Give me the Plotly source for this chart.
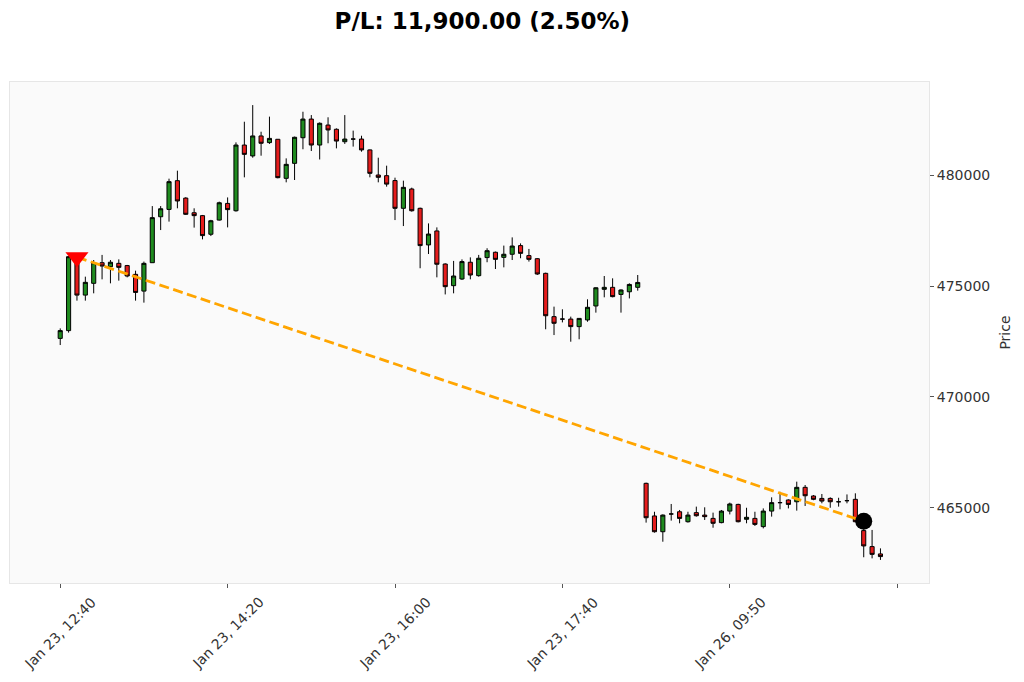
import plotly.graph_objects as go

# ---- data ----
opens = [472640, 472990, 476320, 474590, 475120, 476050, 475870, 476020, 475920, 475525,
         474770, 476050, 478120, 478450, 479745, 478960, 478300, 478170, 477330, 477970,
         478720, 478390, 481350, 480860, 481760, 481460, 481610, 479850, 480525, 481680,
         482520, 481350, 482250, 482060, 481500, 481620, 481620, 481130, 480000, 479970,
         479750, 478500, 479370, 478500, 476850, 477480, 475990, 475015, 475315, 476070,
         475465, 476280, 476520, 476290, 476430, 476820, 476370, 476230, 475570, 473620,
         473510, 473510, 473170, 473470, 474100, 474850, 474940, 474620, 474740, 474940,
         466110, 464640, 463930, 464730, 464830, 464380, 464790, 464680, 464530, 464340,
         464860, 465160, 464490, 464530, 464160, 464860, 465240, 465360, 465280, 465930,
         465540, 465430, 465430, 465280, 465330, 465390, 463980, 463260, 462930]
highs = [473090, 476350, 476400, 475420, 476170, 476400, 476170, 476200, 475950, 475690,
         476100, 478600, 478600, 479835, 480195, 479000, 478500, 478200, 477980, 478800,
         478990, 481470, 482400, 483150, 481950, 482630, 481620, 480750, 481730, 482850,
         482700, 482370, 482600, 482100, 482700, 482000, 481770, 481150, 480780, 480420,
         479880, 479745, 479430, 478530, 477820, 477640, 476020, 476130, 476200, 476290,
         476400, 476700, 476550, 476820, 477190, 476920, 476670, 476260, 475600, 474070,
         473950, 473620, 473550, 474400, 474940, 475450, 475345, 474850, 475120, 475495,
         466140, 464830, 464710, 465180, 464910, 464830, 465060, 465030, 464790, 464910,
         465240, 465190, 465010, 464830, 464980, 465480, 465730, 465390, 466185, 466035,
         465580, 465630, 465480, 465460, 465610, 465660, 464040, 464010, 463180]
lows = [472340, 472900, 474340, 474340, 474670, 475300, 475120, 475240, 475390, 474340,
        474250, 476050, 477520, 477900, 478500, 478200, 477630, 477100, 477250, 477950,
        477640, 478350, 479895, 480780, 480870, 481400, 479850, 479670, 479775, 481160,
        481080, 480700, 481430, 481200, 481400, 481280, 481050, 479895, 479670, 479475,
        477970, 477700, 478350, 475800, 476440, 475390, 474620, 474670, 475270, 475300,
        475420, 476070, 475765, 475840, 476170, 476250, 476100, 475500, 473050, 472790,
        473360, 472490, 472600, 473390, 473800, 474490, 474490, 473800, 474440, 474790,
        464340, 463890, 463480, 464430, 464310, 464340, 464610, 464460, 464110, 464310,
        464710, 464350, 464310, 464190, 464080, 464610, 464940, 464980, 464880, 465090,
        465350, 465210, 465010, 465060, 465210, 464350, 462780, 462730, 462660]
closes = [472990, 476320, 474590, 475165, 476050, 475900, 476070, 475840, 475450, 474710,
          476020, 478080, 478480, 479700, 478830, 478230, 478170, 477270, 477940, 478750,
          478440, 481350, 480930, 481760, 481430, 481650, 479880, 480480, 481700, 482520,
          481350, 482330, 482030, 481530, 481620, 481620, 481130, 480075, 479895, 479590,
          478500, 479445, 478390, 476820, 477340, 475980, 474970, 475450, 476100, 475495,
          476250, 476590, 476200, 476430, 476800, 476470, 476200, 475540, 473660, 473320,
          473510, 473170, 473540, 474040, 474920, 474940, 474520, 474820, 475070, 475160,
          464560, 463930, 464680, 464730, 464530, 464680, 464650, 464610, 464310, 464860,
          465180, 464380, 464580, 464260, 464860, 465240, 465240, 465160, 465930, 465550,
          465390, 465310, 465280, 465280, 465330, 464380, 463290, 462910, 462810]

tick_positions = [0, 20, 40, 60, 80, 100]
tick_labels = ["Jan 23, 12:40", "Jan 23, 14:20", "Jan 23, 16:00", "Jan 23, 17:40", "Jan 26, 09:50", ""]
y_ticks = [465000, 470000, 475000, 480000]

entry_index = 2
entry_price = 476300
exit_index = 96
exit_price = 464400
pl_value = 11900.00
pl_pct = 2.50

x_idx = list(range(len(opens)))

fig = go.Figure()
fig.add_trace(go.Candlestick(
    x=x_idx, open=opens, high=highs, low=lows, close=closes,
    increasing=dict(line=dict(color="black", width=1), fillcolor="#1f8b1f"),
    decreasing=dict(line=dict(color="black", width=1), fillcolor="#e51c1c"),
    whiskerwidth=0, showlegend=False, hoverinfo="skip",
))
fig.add_trace(go.Scatter(
    x=[entry_index, exit_index], y=[entry_price, exit_price], mode="lines",
    line=dict(color="#FFA500", width=2.8, dash="10px,4.5px"), showlegend=False,
))
fig.add_trace(go.Scatter(
    x=[entry_index], y=[entry_price], mode="markers",
    marker=dict(symbol="triangle-down", size=20, color="#ff0000", line=dict(width=0)),
    showlegend=False,
))
fig.add_trace(go.Scatter(
    x=[exit_index], y=[exit_price], mode="markers",
    marker=dict(symbol="circle", size=17, color="black", line=dict(width=0)),
    showlegend=False,
))

# rotated x tick labels centred under their ticks
for pos, lab in zip(tick_positions, tick_labels):
    if lab:
        fig.add_annotation(x=pos, y=-0.0998, xref="x", yref="paper", text=lab,
                           textangle=-45, showarrow=False, xanchor="center", yanchor="middle",
                           font=dict(size=14, color="#333333", family="DejaVu Sans"))

fig.update_layout(
    width=1024, height=682,
    margin=dict(l=10, r=95, t=82, b=99),
    paper_bgcolor="white", plot_bgcolor="#fafafa",
    font=dict(family="DejaVu Sans", color="#333333", size=14),
    title=dict(text="<b>P/L: %s (%.2f%%)</b>" % (f"{pl_value:,.2f}", pl_pct),
               x=0.471, xanchor="center", y=0.969, yanchor="middle",
               font=dict(size=23, color="black", family="DejaVu Sans")),
    xaxis=dict(
        range=[-6, 103.8], rangeslider=dict(visible=False), automargin=False,
        tickmode="array", tickvals=tick_positions, ticktext=[""] * len(tick_positions),
        ticks="outside", ticklen=4, tickcolor="#555555",
        showgrid=False, zeroline=False,
        showline=True, mirror=True, linecolor="#e6e6e6", linewidth=1,
    ),
    yaxis=dict(
        range=[461620, 484190], side="right", tickformat="d", automargin=False,
        tickmode="array", tickvals=y_ticks,
        ticks="outside", ticklen=4, tickcolor="#555555",
        showgrid=False, zeroline=False,
        showline=True, mirror=True, linecolor="#e6e6e6", linewidth=1,
        tickfont=dict(size=14, color="#333333"),
        title=dict(text="Price", standoff=10, font=dict(size=14, color="#333333")),
    ),
)

fig.write_html("out.html", config={"displayModeBar": False},
               post_script="document.body.style.margin='0';document.body.style.overflow='hidden';")
